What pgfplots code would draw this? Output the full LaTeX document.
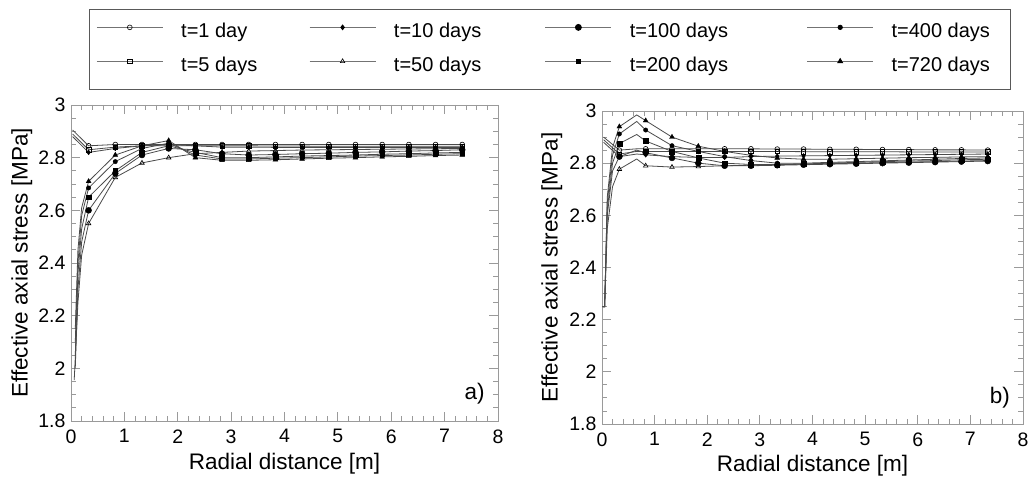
\documentclass[border=0pt]{standalone}
\usepackage{pgfplots}
\pgfplotsset{compat=1.18}
\usepackage{pgfplotstable}
\usepackage{fontspec}
\setmainfont{Liberation Sans}

% ---------------- panel a) ----------------
\pgfplotstableread{
x y
0.03 2.905
0.33 2.845
0.83 2.850
1.33 2.850
1.83 2.850
2.33 2.850
2.83 2.850
3.33 2.850
3.83 2.850
4.33 2.850
4.83 2.850
5.33 2.850
5.83 2.850
6.33 2.850
6.83 2.850
7.33 2.850
}\aA
\pgfplotstableread{
x y
0.03 2.890
0.33 2.830
0.83 2.840
1.33 2.845
1.83 2.845
2.33 2.845
2.83 2.845
3.33 2.845
3.83 2.844
4.33 2.844
4.83 2.843
5.33 2.843
5.83 2.843
6.33 2.843
6.83 2.843
7.33 2.843
}\aB
\pgfplotstableread{
x y
0.03 2.880
0.33 2.820
0.83 2.835
1.33 2.845
1.83 2.850
2.33 2.845
2.83 2.840
3.33 2.840
3.83 2.839
4.33 2.839
4.83 2.839
5.33 2.839
5.83 2.839
6.33 2.839
6.83 2.839
7.33 2.839
}\aC
\pgfplotstableread{
x y
0.06 1.955
0.13 2.250
0.20 2.430
0.33 2.550
0.83 2.725
1.33 2.780
1.83 2.800
2.33 2.815
2.83 2.820
3.33 2.825
3.83 2.827
4.33 2.829
4.83 2.830
5.33 2.831
5.83 2.832
6.33 2.833
6.83 2.834
7.33 2.835
}\aD
\pgfplotstableread{
x y
0.08 2.000
0.13 2.300
0.20 2.480
0.33 2.600
0.83 2.740
1.33 2.810
1.83 2.835
2.33 2.830
2.83 2.815
3.33 2.810
3.83 2.812
4.33 2.815
4.83 2.817
5.33 2.820
5.83 2.822
6.33 2.825
6.83 2.827
7.33 2.830
}\aE
\pgfplotstableread{
x y
0.08 2.050
0.13 2.360
0.20 2.530
0.33 2.650
0.83 2.750
1.33 2.820
1.83 2.845
2.33 2.820
2.83 2.800
3.33 2.800
3.83 2.803
4.33 2.806
4.83 2.808
5.33 2.810
5.83 2.813
6.33 2.815
6.83 2.818
7.33 2.820
}\aF
\pgfplotstableread{
x y
0.08 2.100
0.13 2.400
0.20 2.580
0.33 2.685
0.83 2.785
1.33 2.835
1.83 2.855
2.33 2.810
2.83 2.795
3.33 2.795
3.83 2.798
4.33 2.800
4.83 2.803
5.33 2.806
5.83 2.808
6.33 2.810
6.83 2.813
7.33 2.815
}\aG
\pgfplotstableread{
x y
0.08 2.150
0.13 2.450
0.20 2.610
0.33 2.710
0.83 2.810
1.33 2.845
1.83 2.865
2.33 2.800
2.83 2.790
3.33 2.790
3.83 2.792
4.33 2.795
4.83 2.798
5.33 2.800
5.83 2.803
6.33 2.805
6.83 2.808
7.33 2.810
}\aH

% ---------------- panel b) ----------------
\pgfplotstableread{
x y
0.03 2.900
0.33 2.850
0.66 2.855
0.83 2.855
1.33 2.855
1.83 2.855
2.33 2.855
2.83 2.855
3.33 2.854
3.83 2.854
4.33 2.853
4.83 2.853
5.33 2.852
5.83 2.852
6.33 2.851
6.83 2.851
7.33 2.850
}\bA
\pgfplotstableread{
x y
0.03 2.890
0.33 2.835
0.66 2.845
0.83 2.845
1.33 2.845
1.83 2.845
2.33 2.845
2.83 2.845
3.33 2.845
3.83 2.844
4.33 2.844
4.83 2.844
5.33 2.844
5.83 2.843
6.33 2.843
6.83 2.843
7.33 2.843
}\bB
\pgfplotstableread{
x y
0.03 2.880
0.33 2.825
0.66 2.835
0.83 2.832
1.33 2.825
1.83 2.822
2.33 2.822
2.83 2.825
3.33 2.827
3.83 2.828
4.33 2.829
4.83 2.830
5.33 2.831
5.83 2.832
6.33 2.833
6.83 2.834
7.33 2.835
}\bC
\pgfplotstableread{
x y
0.01 2.250
0.05 2.250
0.10 2.550
0.20 2.710
0.33 2.777
0.66 2.816
0.83 2.790
1.33 2.785
1.83 2.787
2.33 2.790
2.83 2.792
3.33 2.794
3.83 2.796
4.33 2.798
4.83 2.800
5.33 2.802
5.83 2.804
6.33 2.806
6.83 2.808
7.33 2.810
}\bD
\pgfplotstableread{
x y
0.01 2.250
0.05 2.250
0.10 2.600
0.20 2.770
0.33 2.825
0.66 2.850
0.83 2.840
1.33 2.820
1.83 2.800
2.33 2.790
2.83 2.790
3.33 2.792
3.83 2.794
4.33 2.796
4.83 2.798
5.33 2.800
5.83 2.802
6.33 2.804
6.83 2.806
7.33 2.808
}\bE
\pgfplotstableread{
x y
0.01 2.250
0.05 2.250
0.10 2.620
0.20 2.800
0.33 2.875
0.66 2.910
0.83 2.885
1.33 2.845
1.83 2.820
2.33 2.800
2.83 2.795
3.33 2.795
3.83 2.797
4.33 2.800
4.83 2.803
5.33 2.806
5.83 2.808
6.33 2.810
6.83 2.813
7.33 2.815
}\bF
\pgfplotstableread{
x y
0.01 2.250
0.05 2.250
0.10 2.650
0.20 2.830
0.33 2.912
0.66 2.960
0.83 2.927
1.33 2.867
1.83 2.845
2.33 2.825
2.83 2.810
3.33 2.800
3.83 2.800
4.33 2.803
4.83 2.806
5.33 2.809
5.83 2.812
6.33 2.815
6.83 2.818
7.33 2.820
}\bG
\pgfplotstableread{
x y
0.01 2.250
0.05 2.250
0.10 2.670
0.20 2.860
0.33 2.940
0.66 2.985
0.83 2.963
1.33 2.900
1.83 2.865
2.33 2.845
2.83 2.830
3.33 2.820
3.83 2.815
4.33 2.815
4.83 2.817
5.33 2.819
5.83 2.821
6.33 2.822
6.83 2.824
7.33 2.825
}\bH

\definecolor{linegray}{HTML}{4A4A4A}
\definecolor{framegray}{HTML}{9A9A9A}

\pgfplotsset{
  lin/.style={linegray, line width=0.8pt},
  ser/.style={lin, mark=none},
  mk/.style={only marks, black,
    x filter/.expression={(x<0.3 || abs(x-0.66)<0.01) ? nan : x}},
  sA/.style={mark=o, mark size=2.4pt, mark options={fill=white, draw=black, line width=0.6pt}},
  sB/.style={mark=square, mark size=2.2pt, mark options={fill=white, draw=black, line width=0.6pt}},
  sC/.style={mark=diamond*, mark size=2.4pt, mark options={fill=black, draw=black}},
  sD/.style={mark=triangle, mark size=2.6pt, mark options={fill=white, draw=black, line width=0.6pt}},
  sE/.style={mark=*, mark size=3.0pt, mark options={fill=black, draw=black}},
  sF/.style={mark=square*, mark size=2.4pt, mark options={fill=black, draw=black}},
  sG/.style={mark=*, mark size=2.2pt, mark options={fill=black, draw=black}},
  sH/.style={mark=triangle*, mark size=2.8pt, mark options={fill=black, draw=black}},
  panel/.style={
    scale only axis,
    xmin=0, xmax=8, ymin=1.8, ymax=3,
    xtick={0,1,2,3,4,5,6,7,8},
    ytick={1.8,2,2.2,2.4,2.6,2.8,3},
    minor x tick num=4, minor y tick num=3,
    tick align=inside,
    major tick length=9pt, minor tick length=5pt,
    axis line style={framegray, line width=0.9pt},
    every tick/.style={framegray, line width=0.9pt},
    /pgf/number format/assume math mode=true,
    tick label style={font=\fontsize{19.5}{20}\selectfont},
    xticklabel style={yshift=-5pt},
    yticklabel style={xshift=-2pt},
    label style={font=\fontsize{22.5}{24}\selectfont},
    xlabel={Radial distance [m]},
    ylabel={Effective axial stress [MPa]},
    clip=true,
  },
}

\newcommand{\lgtext}[2]{\makebox[#1][l]{\hspace{18pt}#2}}

\begin{document}
\begin{tikzpicture}
\path[use as bounding box] (0,0) rectangle (1034pt,481pt);

\begin{axis}[panel,
  at={(71pt,60pt)}, anchor=south west,
  width=427pt, height=316pt,
  xlabel style={at={(axis description cs:0.5,-0.135)}, anchor=center},
  ylabel style={at={(axis description cs:-0.115,0.5)}, anchor=center},
  legend columns=4,
  legend cell align=left,
  legend image code/.code={\draw[line width=0.8pt, draw=black!55, mark repeat=2, mark phase=2]
     plot coordinates {(0pt,5pt) (33pt,5pt) (66pt,5pt)};},
  legend style={at={(axis description cs:1.1218,1.176)}, anchor=center,
    draw=black!65, line width=1.1pt, fill=white,
    inner xsep=7pt, inner ysep=13pt,
    row sep=14pt,
    font=\fontsize{20}{22}\selectfont,
    nodes={inner sep=0pt, text height=15pt, text depth=5pt},
    /tikz/every even column/.append style={column sep=0pt},
    /tikz/every odd column/.append style={column sep=0pt}},
]
\addlegendimage{lin, sA}\addlegendentry{\lgtext{146pt}{t=1 day}}
\addlegendimage{lin, sC}\addlegendentry{\lgtext{169pt}{t=10 days}}
\addlegendimage{lin, sE}\addlegendentry{\lgtext{195pt}{t=100 days}}
\addlegendimage{lin, sG}\addlegendentry{\lgtext{130pt}{t=400 days}}
\addlegendimage{lin, sB}\addlegendentry{\lgtext{146pt}{t=5 days}}
\addlegendimage{lin, sD}\addlegendentry{\lgtext{169pt}{t=50 days}}
\addlegendimage{lin, sF}\addlegendentry{\lgtext{195pt}{t=200 days}}
\addlegendimage{lin, sH}\addlegendentry{\lgtext{130pt}{t=720 days}}

\addplot[ser, forget plot] table {\aA};
\addplot[ser, forget plot] table {\aB};
\addplot[ser, forget plot] table {\aC};
\addplot[ser, forget plot] table {\aD};
\addplot[ser, forget plot] table {\aE};
\addplot[ser, forget plot] table {\aF};
\addplot[ser, forget plot] table {\aG};
\addplot[ser, forget plot] table {\aH};
\addplot[mk, sA, forget plot] table {\aA};
\addplot[mk, sB, forget plot] table {\aB};
\addplot[mk, sC, forget plot] table {\aC};
\addplot[mk, sD, forget plot] table {\aD};
\addplot[mk, sE, forget plot] table {\aE};
\addplot[mk, sF, forget plot] table {\aF};
\addplot[mk, sG, forget plot] table {\aG};
\addplot[mk, sH, forget plot] table {\aH};
\node[font=\fontsize{22.5}{24}\selectfont] at (rel axis cs:0.945,0.085) {a)};
\end{axis}

\begin{axis}[panel,
  at={(602pt,57pt)}, anchor=south west,
  width=421pt, height=313pt,
  xlabel style={at={(axis description cs:0.5,-0.134)}, anchor=center},
  ylabel style={at={(axis description cs:-0.119,0.5)}, anchor=center},
]
\addplot[ser] table {\bA};
\addplot[ser] table {\bB};
\addplot[ser] table {\bC};
\addplot[ser] table {\bD};
\addplot[ser] table {\bE};
\addplot[ser] table {\bF};
\addplot[ser] table {\bG};
\addplot[ser] table {\bH};
\addplot[mk, sA] table {\bA};
\addplot[mk, sB] table {\bB};
\addplot[mk, sC] table {\bC};
\addplot[mk, sD] table {\bD};
\addplot[mk, sE] table {\bE};
\addplot[mk, sF] table {\bF};
\addplot[mk, sG] table {\bG};
\addplot[mk, sH] table {\bH};
\node[font=\fontsize{22.5}{24}\selectfont] at (rel axis cs:0.945,0.085) {b)};
\end{axis}
\end{tikzpicture}
\end{document}
